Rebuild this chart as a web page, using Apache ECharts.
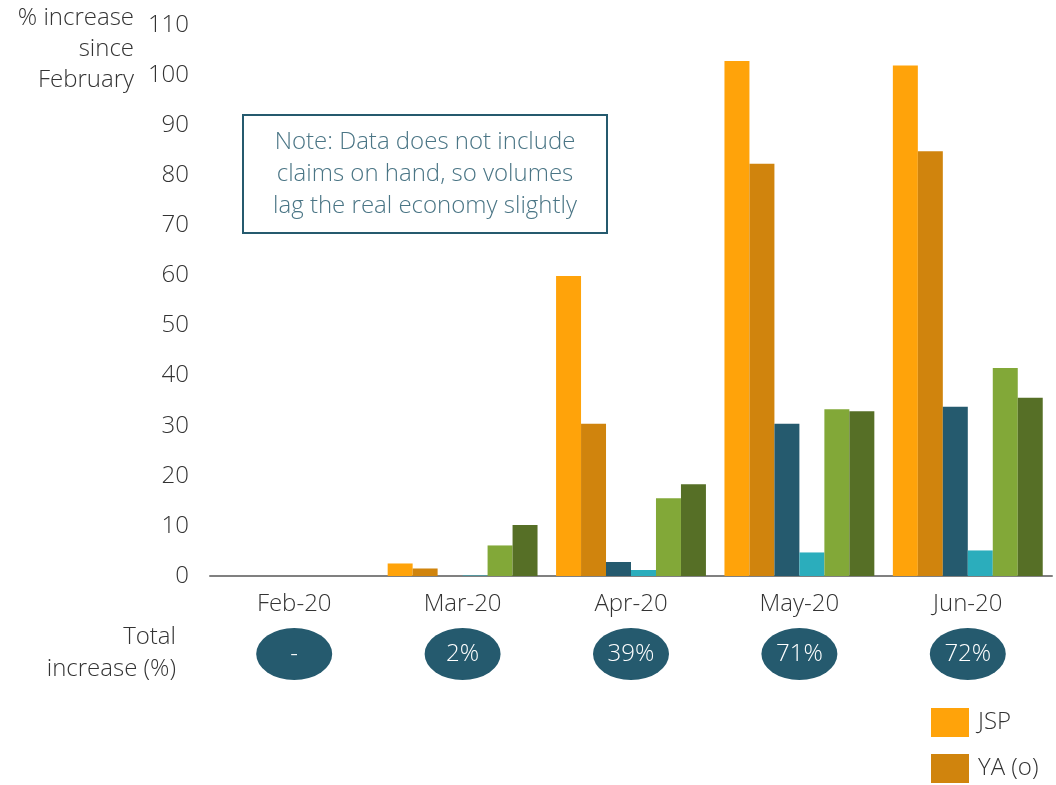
<!DOCTYPE html>
<html>
<head>
<meta charset="utf-8">
<script src="https://cdn.jsdelivr.net/npm/echarts@6/dist/echarts.min.js"></script>
<style>
html,body{margin:0;padding:0;background:#fff;}
#chart{width:1056px;height:785px;}
</style>
</head>
<body>
<div id="chart"></div>
<script>
const categories = ['Feb-20', 'Mar-20', 'Apr-20', 'May-20', 'Jun-20'];
const seriesNames = ['JSP', 'YA (o)', 'Series 3', 'Series 4', 'Series 5', 'Series 6'];
const jsp = [0, 2.5, 59.9, 102.8, 101.9];
const ya = [0, 1.5, 30.4, 82.3, 84.8];
const s3 = [0, -0.4, 2.8, 30.4, 33.8];
const s4 = [0, 0.1, 1.2, 4.7, 5.1];
const s5 = [0, 6.1, 15.5, 33.3, 41.5];
const s6 = [0, 10.2, 18.3, 32.9, 35.6];
const totalIncrease = ['-', '2%', '39%', '71%', '72%'];
const yTicks = { min: 0, max: 110, interval: 10 };

const colors = ['#FFA30A', '#D0840D', '#255A6E', '#2BADBC', '#82A838', '#566F26'];
const seriesData = [jsp, ya, s3, s4, s5, s6];
const FONT = "'Open Sans', 'Noto Sans', sans-serif";
const W = 300;
const FS = 24;
const TXT = '#333333';

const chart = echarts.init(document.getElementById('chart'));

const barSeries = seriesData.map((d, i) => ({
  name: seriesNames[i],
  type: 'bar',
  xAxisIndex: 0,
  yAxisIndex: 0,
  data: d,
  barGap: '0%',
  barCategoryGap: '11%',
  itemStyle: { color: colors[i] },
  emphasis: { disabled: true }
}));

const option = {
  animation: false,
  textStyle: { fontFamily: FONT, fontWeight: W },
  legend: {
    data: ['JSP', 'YA (o)'],
    orient: 'vertical',
    left: 931,
    top: 708,
    padding: 0,
    itemWidth: 38,
    itemHeight: 29,
    itemGap: 17,
    icon: 'rect',
    textStyle: { fontSize: FS, color: TXT, fontFamily: FONT, fontWeight: W, padding: [0, 0, 0, 4] }
  },
  grid: [
    { left: 210, right: 4, top: 25, bottom: 209, containLabel: false },
    { left: 210, right: 4, top: 628, height: 52, containLabel: false }
  ],
  xAxis: [
    {
      type: 'category', gridIndex: 0, data: categories,
      axisLine: { lineStyle: { color: '#808080', width: 2 } },
      axisTick: { show: false },
      axisLabel: { fontSize: FS, color: TXT, margin: 16, fontFamily: FONT, fontWeight: W },
      splitLine: { show: false }
    },
    {
      type: 'category', gridIndex: 1, data: categories,
      axisLine: { show: false }, axisTick: { show: false }, axisLabel: { show: false }
    }
  ],
  yAxis: [
    {
      type: 'value', gridIndex: 0, min: yTicks.min, max: yTicks.max, interval: yTicks.interval,
      axisLine: { show: false }, axisTick: { show: false },
      splitLine: { show: false },
      axisLabel: { fontSize: FS, color: TXT, margin: 21, fontFamily: FONT, fontWeight: W }
    },
    {
      type: 'value', gridIndex: 1, min: -1, max: 1,
      axisLine: { show: false }, axisTick: { show: false }, axisLabel: { show: false }, splitLine: { show: false }
    }
  ],
  series: barSeries.concat([{
    type: 'scatter',
    xAxisIndex: 1,
    yAxisIndex: 1,
    symbol: 'circle',
    symbolSize: [76, 52],
    itemStyle: { color: '#255A6E', opacity: 1 },
    data: totalIncrease.map(() => 0),
    label: {
      show: true, position: 'inside',
      formatter: (p) => totalIncrease[p.dataIndex],
      color: '#ffffff', fontSize: FS, fontFamily: FONT, fontWeight: W
    },
    emphasis: { disabled: true }
  }]),
  graphic: [
    {
      type: 'text', x: 134, y: 3,
      style: {
        text: '% increase\nsince\nFebruary', align: 'right', verticalAlign: 'top',
        font: W + " " + FS + "px 'Open Sans', sans-serif", fill: TXT, lineHeight: 31
      }
    },
    {
      type: 'text', x: 176, y: 621,
      style: {
        text: 'Total\nincrease (%)', align: 'right', verticalAlign: 'top',
        font: W + " " + FS + "px 'Open Sans', sans-serif", fill: TXT, lineHeight: 32
      }
    },
    {
      type: 'rect', x: 243, y: 115,
      shape: { width: 364, height: 118 },
      style: { fill: '#ffffff', stroke: '#255A6E', lineWidth: 2 }
    },
    {
      type: 'text', x: 425, y: 126,
      style: {
        text: 'Note: Data does not include\nclaims on hand, so volumes\nlag the real economy slightly',
        align: 'center', verticalAlign: 'top', font: W + " " + FS + "px 'Open Sans', sans-serif", fill: '#4A7585', lineHeight: 32
      }
    }
  ]
};
chart.setOption(option);
</script>
</body>
</html>
